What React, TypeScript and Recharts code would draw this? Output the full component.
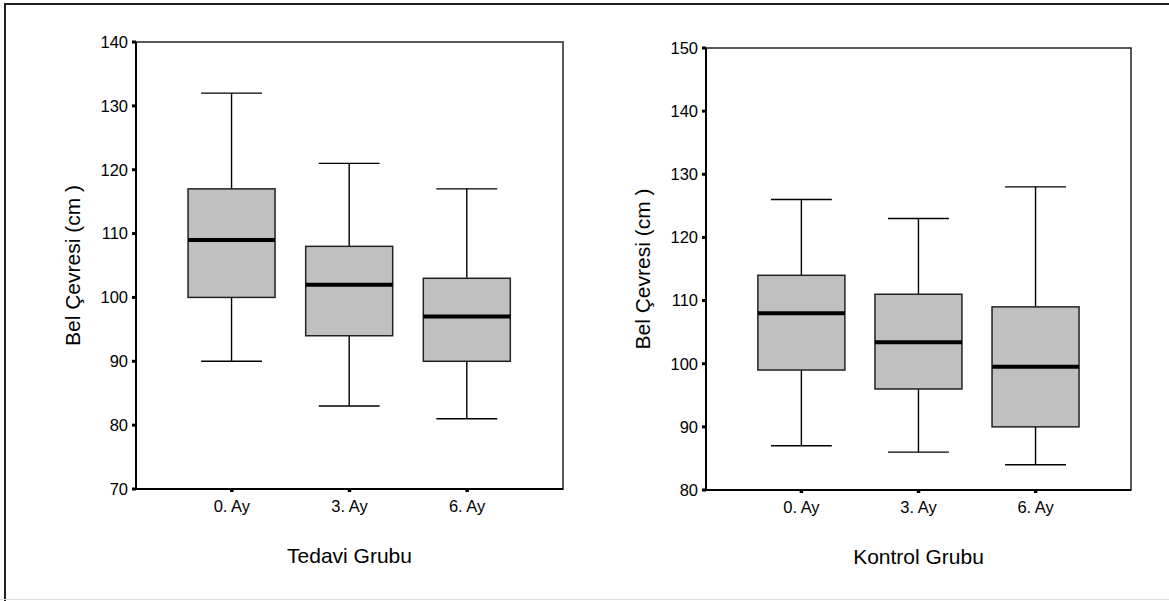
import React from 'react';
import { ComposedChart, Bar, XAxis, YAxis, ReferenceArea } from 'recharts';

const categories = ['0. Ay', '3. Ay', '6. Ay'];

const tedaviMin = [90, 83, 81];
const tedaviQ1 = [100, 94, 90];
const tedaviMedian = [109, 102, 97];
const tedaviQ3 = [117, 108, 103];
const tedaviMax = [132, 121, 117];

const kontrolMin = [87, 86, 84];
const kontrolQ1 = [99, 96, 90];
const kontrolMedian = [108, 103.4, 99.5];
const kontrolQ3 = [114, 111, 109];
const kontrolMax = [126, 123, 128];

const tedaviTicks = [70, 80, 90, 100, 110, 120, 130, 140];
const kontrolTicks = [80, 90, 100, 110, 120, 130, 140, 150];
const categoryTicks = [0, 1, 2];
const categoryDomain = [-0.815, 2.815];

const yLabelText = 'Bel Çevresi (cm )';
const tedaviTitle = 'Tedavi Grubu';
const kontrolTitle = 'Kontrol Grubu';

const FONT = "Arial, 'Liberation Sans', Helvetica, sans-serif";

type Row = { name: string; pos: number; min: number; q1: number; median: number; q3: number; max: number; range: [number, number] };

function build(mins: number[], q1s: number[], meds: number[], q3s: number[], maxs: number[]): Row[] {
  return categories.map((name, i) => ({
    name,
    pos: i,
    min: mins[i],
    q1: q1s[i],
    median: meds[i],
    q3: q3s[i],
    max: maxs[i],
    range: [mins[i], maxs[i]] as [number, number],
  }));
}

const tedaviData = build(tedaviMin, tedaviQ1, tedaviMedian, tedaviQ3, tedaviMax);
const kontrolData = build(kontrolMin, kontrolQ1, kontrolMedian, kontrolQ3, kontrolMax);

const makeBoxShape = (data: Row[]) => (props: any) => {
  const { x, y, width, height, index } = props;
  const p: Row = (props.payload && props.payload.q1 !== undefined) ? props.payload : data[index];
  const top = Math.min(y, y + height);
  const bottom = Math.max(y, y + height);
  const span = p.max - p.min;
  const toY = (v: number) => top + (bottom - top) * (p.max - v) / span;
  const cx = x + width / 2;
  const capHalf = width * 0.35;
  const yQ1 = toY(p.q1);
  const yQ3 = toY(p.q3);
  const yMed = toY(p.median);
  return (
    <g>
      <line x1={cx} x2={cx} y1={top} y2={yQ3} stroke="#000" strokeWidth={1.4} />
      <line x1={cx} x2={cx} y1={yQ1} y2={bottom} stroke="#000" strokeWidth={1.4} />
      <line x1={cx - capHalf} x2={cx + capHalf} y1={top} y2={top} stroke="#000" strokeWidth={1.4} />
      <line x1={cx - capHalf} x2={cx + capHalf} y1={bottom} y2={bottom} stroke="#000" strokeWidth={1.4} />
      <rect x={x} y={yQ3} width={width} height={yQ1 - yQ3} fill="#c0c0c0" stroke="#222" strokeWidth={1.5} />
      <line x1={x} x2={x + width} y1={yMed} y2={yMed} stroke="#000" strokeWidth={4} />
    </g>
  );
};

const yLabel = (props: any) => {
  const vb = props.viewBox || {};
  const bx = vb.x + vb.width - 56;
  const cy = vb.y + vb.height / 2;
  return (
    <text x={bx} y={cy} transform={`rotate(-90, ${bx}, ${cy})`} textAnchor="middle" fontSize={21} fontFamily={FONT} fill="#000">
      {yLabelText}
    </text>
  );
};

const xTitle = (title: string) => (props: any) => {
  const vb = props.viewBox || {};
  return (
    <text x={vb.x + vb.width / 2} y={vb.y + 74} textAnchor="middle" fontSize={21} fontFamily={FONT} fill="#000">
      {title}
    </text>
  );
};

type PanelProps = {
  data: Row[];
  ticks: number[];
  title: string;
  width: number;
  height: number;
  margin: { top: number; right: number; bottom: number; left: number };
  yWidth: number;
  xHeight: number;
};

function Panel({ data, ticks, title, width, height, margin, yWidth, xHeight }: PanelProps) {
  const tickStyle = { fill: '#000', fontSize: 16.5, fontFamily: FONT };
  const lo = ticks[0];
  const hi = ticks[ticks.length - 1];
  return (
    <ComposedChart width={width} height={height} data={data} margin={margin}>
      <ReferenceArea y1={lo} y2={hi} fill="none" fillOpacity={0} stroke="#222" strokeWidth={1.5} ifOverflow="visible" />
      <XAxis
        dataKey="pos"
        type="number"
        domain={categoryDomain}
        ticks={categoryTicks}
        tickFormatter={(v: number) => categories[v]}
        allowDataOverflow
        height={xHeight}
        axisLine={{ stroke: '#000', strokeWidth: 2 }}
        tickLine={{ stroke: '#000', strokeWidth: 3.5 }}
        tickSize={3}
        tickMargin={8}
        tick={tickStyle}
        interval={0}
        label={{ content: xTitle(title) }}
      />
      <YAxis
        type="number"
        domain={[lo, hi]}
        ticks={ticks}
        interval={0}
        width={yWidth}
        axisLine={{ stroke: '#000', strokeWidth: 2 }}
        tickLine={{ stroke: '#000', strokeWidth: 3 }}
        tickSize={4}
        tickMargin={4}
        tick={tickStyle}
        allowDataOverflow
        label={{ content: yLabel }}
      />
      <Bar dataKey="range" barSize={87} isAnimationActive={false} shape={makeBoxShape(data)} />
    </ComposedChart>
  );
}

export default function App() {
  return (
    <div style={{ position: 'absolute', left: 0, top: 0, width: 1169, height: 601, background: '#fff', overflow: 'hidden' }}>
      <div style={{ position: 'absolute', left: 0, top: 0 }}>
        <Panel
          data={tedaviData}
          ticks={tedaviTicks}
          title={tedaviTitle}
          width={580}
          height={601}
          margin={{ top: 42, right: 17, bottom: 0, left: 0 }}
          yWidth={136}
          xHeight={112}
        />
      </div>
      <div style={{ position: 'absolute', left: 580, top: 0 }}>
        <Panel
          data={kontrolData}
          ticks={kontrolTicks}
          title={kontrolTitle}
          width={589}
          height={601}
          margin={{ top: 48, right: 38, bottom: 0, left: 0 }}
          yWidth={126}
          xHeight={111}
        />
      </div>
      <div style={{ position: 'absolute', left: 4, top: 3, width: 1165, height: 0, borderTop: '2px solid #222' }} />
      <div style={{ position: 'absolute', left: 4, top: 3, width: 0, height: 598, borderLeft: '2px solid #222' }} />
      <div style={{ position: 'absolute', left: 0, top: 599, width: 1169, height: 0, borderTop: '1px solid #ddd' }} />
    </div>
  );
}
